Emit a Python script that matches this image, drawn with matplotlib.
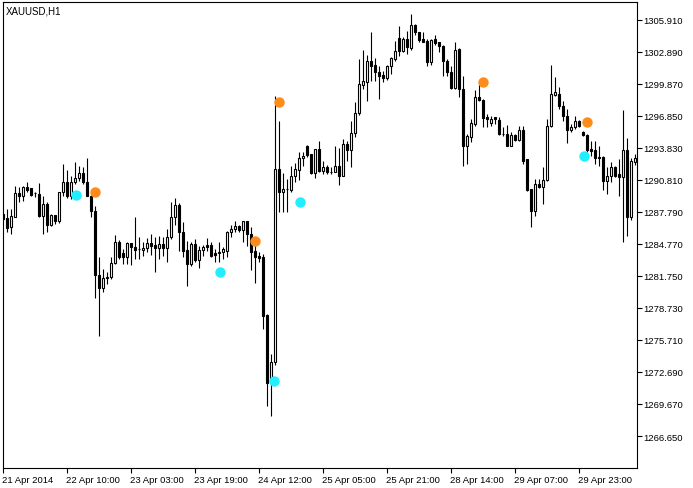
import numpy as np
import matplotlib
matplotlib.use("Agg")
import matplotlib.pyplot as plt
import matplotlib.transforms as mtransforms

plt.rcParams['font.family'] = ['Liberation Sans', 'DejaVu Sans']

symbol = "XAUUSD,H1"

# hourly bars (open, high, low, close)
opens = [
    1287.59, 1287.21, 1286.33, 1287.33, 1289.57, 1289.31, 1290.10, 1290.01, 1289.60, 1289.47,
    1287.43, 1288.53, 1286.58, 1287.49, 1286.95, 1289.63, 1290.57, 1289.25, 1290.57, 1290.95,
    1291.45, 1290.57, 1289.31, 1287.84, 1281.86, 1280.58, 1281.52, 1281.62, 1282.94, 1284.92,
    1283.88, 1283.56, 1284.82, 1284.50, 1284.29, 1284.22, 1284.35, 1284.82, 1284.66, 1284.35,
    1284.76, 1284.35, 1285.39, 1287.27, 1288.43, 1285.86, 1284.19, 1282.87, 1284.76, 1283.28,
    1284.19, 1284.66, 1284.66, 1283.91, 1283.91, 1283.97, 1284.13, 1285.86, 1286.17, 1286.45,
    1286.11, 1286.90, 1285.70, 1284.13, 1283.60, 1283.50, 1278.06, 1271.62, 1273.60, 1291.83,
    1289.69, 1289.94, 1289.88, 1291.14, 1291.76, 1292.84, 1293.97, 1293.24, 1291.42, 1293.72,
    1291.67, 1291.99, 1291.58, 1291.58, 1292.08, 1291.20, 1294.19, 1293.65, 1295.20, 1297.08,
    1299.78, 1300.00, 1302.04, 1301.64, 1301.00, 1300.69, 1300.44, 1301.51, 1302.20, 1304.15,
    1302.98, 1304.09, 1303.21, 1305.41, 1304.72, 1304.09, 1303.87, 1301.89, 1304.09, 1303.77,
    1303.40, 1301.99, 1300.95, 1299.44, 1303.15, 1299.37, 1294.03, 1294.82, 1296.07, 1298.65,
    1298.34, 1296.70, 1296.14, 1296.70, 1296.45, 1295.13, 1295.13, 1294.03, 1295.06, 1294.59,
    1295.51, 1292.77, 1289.94, 1287.84, 1290.41, 1290.10, 1290.79, 1295.86, 1298.81, 1298.90,
    1297.80, 1296.80, 1295.51, 1295.76, 1296.33, 1295.29, 1295.04, 1293.72, 1293.62, 1292.96,
    1292.96, 1290.73, 1291.20, 1291.99, 1291.36, 1291.05, 1293.65, 1287.27, 1292.52,
]
highs = [
    1287.68, 1288.06, 1288.06, 1290.20, 1290.10, 1290.20, 1290.57, 1290.01, 1289.69, 1290.48,
    1289.31, 1288.69, 1287.59, 1287.49, 1289.63, 1292.30, 1291.76, 1291.20, 1292.52, 1292.14,
    1291.99, 1292.84, 1289.38, 1288.37, 1283.50, 1282.40, 1282.09, 1283.50, 1285.60, 1285.16,
    1284.29, 1284.92, 1284.82, 1287.33, 1285.39, 1284.92, 1285.30, 1285.70, 1285.39, 1285.54,
    1285.39, 1286.17, 1288.75, 1289.07, 1288.62, 1286.86, 1285.07, 1284.97, 1285.23, 1284.60,
    1284.66, 1285.30, 1284.92, 1284.29, 1284.97, 1284.45, 1286.01, 1286.55, 1286.95, 1286.55,
    1286.95, 1286.95, 1286.39, 1284.92, 1283.97, 1283.81, 1278.16, 1274.38, 1298.71, 1296.33,
    1291.45, 1290.89, 1292.14, 1292.39, 1293.40, 1293.40, 1294.09, 1293.24, 1293.72, 1294.44,
    1292.61, 1292.21, 1291.99, 1294.03, 1293.78, 1294.66, 1294.44, 1296.33, 1298.12, 1302.20,
    1303.08, 1302.58, 1304.78, 1302.27, 1301.57, 1301.10, 1301.64, 1302.42, 1303.93, 1305.34,
    1304.25, 1304.87, 1306.45, 1305.50, 1304.78, 1304.72, 1304.09, 1304.09, 1304.47, 1303.83,
    1303.52, 1302.20, 1301.57, 1303.77, 1303.21, 1300.57, 1295.13, 1296.54, 1299.31, 1299.84,
    1298.43, 1297.02, 1296.86, 1296.76, 1296.70, 1295.82, 1295.98, 1295.29, 1295.13, 1295.86,
    1295.91, 1292.77, 1289.94, 1290.89, 1290.89, 1291.99, 1296.54, 1301.64, 1300.48, 1299.53,
    1298.27, 1297.49, 1296.07, 1296.80, 1296.48, 1295.44, 1295.13, 1294.50, 1294.50, 1294.03,
    1293.08, 1291.99, 1292.46, 1292.14, 1292.77, 1297.42, 1294.75, 1292.84, 1293.24,
]
lows = [
    1287.02, 1285.89, 1285.70, 1287.27, 1288.69, 1288.84, 1289.63, 1289.25, 1289.16, 1287.27,
    1285.70, 1285.92, 1286.43, 1286.64, 1286.74, 1289.31, 1289.07, 1289.00, 1290.41, 1290.73,
    1290.41, 1289.25, 1287.27, 1279.64, 1276.05, 1280.20, 1280.98, 1281.46, 1282.87, 1283.34,
    1282.87, 1282.87, 1282.77, 1283.34, 1283.34, 1283.60, 1283.97, 1283.72, 1282.14, 1283.34,
    1283.60, 1283.09, 1285.23, 1286.55, 1284.13, 1283.50, 1280.82, 1282.65, 1283.09, 1282.46,
    1283.60, 1284.13, 1283.50, 1283.03, 1283.03, 1283.34, 1283.56, 1285.39, 1285.92, 1285.92,
    1284.97, 1284.60, 1282.33, 1281.05, 1283.03, 1276.74, 1269.51, 1268.51, 1273.35, 1287.75,
    1287.75, 1287.80, 1289.69, 1290.57, 1290.82, 1292.14, 1292.93, 1291.36, 1290.95, 1291.52,
    1291.36, 1291.36, 1291.36, 1291.52, 1290.35, 1291.14, 1292.61, 1291.99, 1294.87, 1296.92,
    1299.37, 1298.27, 1300.16, 1300.16, 1298.43, 1300.00, 1300.25, 1300.79, 1302.04, 1302.51,
    1302.89, 1302.67, 1303.08, 1304.47, 1303.83, 1303.77, 1301.57, 1301.64, 1303.52, 1302.89,
    1300.63, 1300.63, 1299.37, 1299.37, 1298.59, 1292.14, 1292.30, 1294.40, 1295.91, 1298.27,
    1295.76, 1295.76, 1295.91, 1296.07, 1295.04, 1294.97, 1294.03, 1293.97, 1294.50, 1294.50,
    1292.30, 1289.78, 1286.33, 1287.37, 1290.01, 1288.53, 1290.73, 1295.76, 1298.74, 1297.49,
    1296.38, 1294.25, 1295.29, 1295.60, 1295.82, 1294.97, 1293.40, 1293.08, 1292.30, 1292.14,
    1289.88, 1289.47, 1290.57, 1291.05, 1289.25, 1284.92, 1285.54, 1287.02, 1292.21,
]
closes = [
    1287.11, 1286.27, 1287.43, 1289.57, 1289.31, 1290.10, 1289.88, 1289.41, 1289.55, 1287.43,
    1288.53, 1286.58, 1287.49, 1286.95, 1289.63, 1290.57, 1289.25, 1290.57, 1290.95, 1291.45,
    1290.57, 1289.31, 1287.84, 1281.86, 1280.58, 1281.52, 1281.67, 1282.94, 1284.92, 1283.56,
    1283.56, 1284.82, 1284.50, 1284.22, 1284.25, 1284.38, 1284.85, 1284.60, 1284.35, 1284.76,
    1284.35, 1285.39, 1287.27, 1288.43, 1285.86, 1284.13, 1282.87, 1284.76, 1283.28, 1284.19,
    1284.47, 1284.50, 1283.65, 1283.75, 1284.03, 1284.29, 1285.92, 1286.17, 1286.45, 1286.11,
    1286.90, 1285.70, 1284.03, 1283.56, 1283.47, 1277.99, 1271.62, 1273.60, 1291.83, 1289.63,
    1289.94, 1289.90, 1291.14, 1291.83, 1292.84, 1293.08, 1293.18, 1291.42, 1293.72, 1291.67,
    1291.99, 1291.52, 1291.55, 1292.08, 1291.20, 1294.19, 1293.65, 1295.20, 1297.08, 1299.84,
    1300.10, 1301.99, 1301.57, 1300.95, 1300.63, 1300.44, 1301.51, 1302.30, 1302.93, 1302.98,
    1304.09, 1303.30, 1305.41, 1304.72, 1304.02, 1303.83, 1301.89, 1304.02, 1303.68, 1303.40,
    1301.99, 1300.95, 1299.44, 1303.08, 1299.37, 1294.03, 1294.91, 1296.14, 1298.59, 1298.34,
    1296.61, 1296.54, 1296.54, 1296.54, 1295.13, 1295.10, 1294.03, 1295.06, 1294.59, 1295.51,
    1292.61, 1289.88, 1287.84, 1290.41, 1290.10, 1290.79, 1295.86, 1298.90, 1299.06, 1297.74,
    1296.80, 1295.51, 1295.76, 1296.33, 1295.91, 1295.04, 1293.65, 1293.56, 1292.87, 1292.84,
    1290.73, 1291.20, 1291.99, 1291.14, 1291.05, 1293.65, 1287.27, 1292.61, 1292.84,
]

# indicator signals (bar position, price)
cyan_x = [18.2, 54.2, 67.7, 74.2, 145.2]
cyan_y = [1289.41, 1282.09, 1271.87, 1288.75, 1293.03]
orange_x = [23.0, 63.1, 69.1, 120.0, 146.0]
orange_y = [1289.63, 1285.01, 1298.12, 1300.00, 1296.29]

price_ticks = [1305.910, 1302.890, 1299.870, 1296.850, 1293.830, 1290.810, 1287.790,
               1284.770, 1281.750, 1278.730, 1275.710, 1272.690, 1269.670, 1266.650]
time_pos = [0, 16, 32, 48, 64, 80, 96, 112, 128, 144]
time_labels = ["21 Apr 2014", "22 Apr 10:00", "23 Apr 03:00", "23 Apr 19:00", "24 Apr 12:00",
               "25 Apr 05:00", "25 Apr 21:00", "28 Apr 14:00", "29 Apr 07:00", "29 Apr 23:00"]

W, H = 693, 489
fig = plt.figure(figsize=(W / 100, H / 100), dpi=100)
left, right, top, bottom = 3, 637, 3, 469
ax = fig.add_axes([left / W, (H - bottom) / H, (right - left) / W, (bottom - top) / H])

o = np.array(opens)
h = np.array(highs)
l = np.array(lows)
c = np.array(closes)
idx = np.arange(len(o))

ax.vlines(idx, l, h, color="black", linewidth=0.8, zorder=2)
body_lo = np.minimum(o, c)
body_h = np.maximum(np.abs(c - o), 0.04)
cols = np.where(c < o, "black", "white")
ax.bar(idx, body_h, bottom=body_lo, width=0.55, color=cols, edgecolor="black",
       linewidth=0.8, zorder=3)

ax.plot(cyan_x, cyan_y, "o", color="#22EEFF", markersize=7.5, markeredgewidth=0, zorder=5)
ax.plot(orange_x, orange_y, "o", color="#FF8C1A", markersize=7.5, markeredgewidth=0, zorder=5)

# pixel -> price mapping of the reference scale
def px2price(y):
    return 1307.86 - 0.0943 * y

ax.set_ylim(px2price(bottom), px2price(top))
ax.set_xlim((left - 2.7) / 4, (right - 2.7) / 4)

ax.yaxis.tick_right()
ax.set_yticks(price_ticks)
ax.set_yticklabels(["%.3f" % p for p in price_ticks])
ax.tick_params(axis="y", direction="out", length=3.5, width=0.8, pad=1, labelsize=6.8)

ax.set_xticks(time_pos)
ax.set_xticklabels(time_labels)
ax.tick_params(axis="x", direction="out", length=3.5, width=0.8, pad=1.5, labelsize=6.8)
offset = mtransforms.ScaledTranslation(-0.5 / 100, 0, fig.dpi_scale_trans)
for lab in ax.get_xticklabels():
    lab.set_horizontalalignment("left")
    lab.set_transform(lab.get_transform() + offset)

for sp in ax.spines.values():
    sp.set_linewidth(0.8)
    sp.set_color("black")

ax.text(0.005, 0.992, symbol, transform=ax.transAxes, fontsize=7, va="top", ha="left")

fig.savefig("out.png", dpi=100)
